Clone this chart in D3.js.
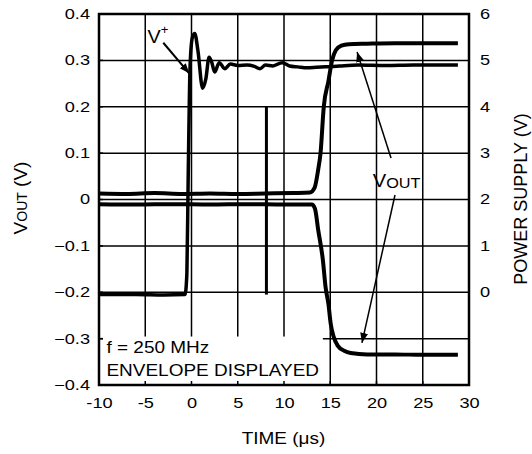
<!DOCTYPE html>
<html>
<head>
<meta charset="utf-8">
<script src="https://cdn.jsdelivr.net/npm/d3@7"></script>
<style>
  body { margin: 0; background: #fff; }
  text { font-family: Arial, "Liberation Sans", Helvetica, sans-serif; fill: #000; }
</style>
</head>
<body>
<svg id="chart" width="532" height="454"></svg>
<script>
// tick values
const timeTicks = [-10, -5, 0, 5, 10, 15, 20, 25, 30]
const voutTicks = [-0.4, -0.3, -0.2, -0.1, 0, 0.1, 0.2, 0.3, 0.4]
const supplyTicks = [0, 1, 2, 3, 4, 5, 6]

// power supply trace (right axis, V)
const supplyTime  = [-10, -6, -3, -0.7, -0.5, -0.35, -0.15, 0.1, 0.35, 0.7, 1.2, 1.55, 1.9, 2.2, 2.5, 3.0, 3.6, 4.2, 5, 6, 6.8, 7.4, 8, 8.8, 9.8, 10.6, 11.5, 12.5, 13.5, 14.5, 16, 18, 21, 24, 27, 28.8]
const supplyVolts = [-0.05, -0.05, -0.06, -0.05, 0.4, 2.6, 4.9, 5.5, 5.58, 5.2, 4.4, 4.6, 5.07, 4.95, 4.75, 4.95, 4.82, 4.92, 4.89, 4.9, 4.87, 4.82, 4.9, 4.88, 4.95, 4.88, 4.86, 4.84, 4.85, 4.86, 4.88, 4.9, 4.89, 4.9, 4.9, 4.9]

// output going high (left axis, V)
const outHighTime  = [-10, -7, -4, -1, 2, 5, 8, 11, 12.8, 13.3, 13.7, 13.95, 14.3, 14.8, 15.2, 15.6, 16.2, 17, 19, 22, 25, 28.8]
const outHighVolts = [0.013, 0.012, 0.014, 0.012, 0.013, 0.012, 0.013, 0.014, 0.015, 0.025, 0.065, 0.1, 0.2, 0.255, 0.3, 0.322, 0.332, 0.335, 0.336, 0.337, 0.337, 0.337]

// output going low (left axis, V)
const outLowTime  = [-10, -6, -2, 2, 6, 10, 13, 13.35, 13.7, 14.2, 14.5, 14.8, 15.05, 15.35, 15.8, 16.5, 17.2, 19, 22, 25, 28.8]
const outLowVolts = [-0.010, -0.011, -0.010, -0.011, -0.010, -0.011, -0.011, -0.02, -0.066, -0.13, -0.19, -0.225, -0.268, -0.295, -0.315, -0.326, -0.331, -0.334, -0.334, -0.335, -0.335]

// glitch spike
const glitchTime = 8.1
const glitchVolts = [-0.205, 0.2]

let svg = d3.select('#chart')

let plotLeft = 99, plotRight = 469, plotTop = 14, plotBottom = 385

let x = d3.scaleLinear().domain([-10, 30]).range([plotLeft, plotRight])
let yL = d3.scaleLinear().domain([-0.4, 0.4]).range([plotBottom, plotTop])
let yR = d3.scaleLinear().domain([-2, 6]).range([plotBottom, plotTop])

// grid
svg.append('g').selectAll('line')
    .data(timeTicks)
    .enter()
    .append('line')
    .attr('x1', (d) => x(d)).attr('x2', (d) => x(d))
    .attr('y1', plotTop).attr('y2', plotBottom)
    .attr('stroke', 'black').attr('stroke-width', 1.5)

svg.append('g').selectAll('line')
    .data(voutTicks)
    .enter()
    .append('line')
    .attr('x1', plotLeft).attr('x2', plotRight)
    .attr('y1', (d) => yL(d)).attr('y2', (d) => yL(d))
    .attr('stroke', 'black').attr('stroke-width', 1.5)

// white box behind the note, with small ticks left visible
svg.append('rect')
    .attr('x', x(-9.57)).attr('y', yL(-0.2955))
    .attr('width', x(14.2) - x(-9.57))
    .attr('height', plotBottom - yL(-0.2955))
    .attr('fill', 'white')

svg.append('g').selectAll('line')
    .data(timeTicks)
    .enter()
    .append('line')
    .attr('x1', (d) => x(d)).attr('x2', (d) => x(d))
    .attr('y1', plotBottom - 4).attr('y2', plotBottom)
    .attr('stroke', 'black').attr('stroke-width', 1.5)

svg.append('g').selectAll('line')
    .data(voutTicks)
    .enter()
    .append('line')
    .attr('x1', plotLeft).attr('x2', plotLeft + 4)
    .attr('y1', (d) => yL(d)).attr('y2', (d) => yL(d))
    .attr('stroke', 'black').attr('stroke-width', 1.5)

// traces
let lineL = d3.line().x((d) => x(d[0])).y((d) => yL(d[1])).curve(d3.curveMonotoneX)
let lineR = d3.line().x((d) => x(d[0])).y((d) => yR(d[1])).curve(d3.curveMonotoneX)

svg.append('path')
    .datum(d3.zip(supplyTime, supplyVolts))
    .attr('d', lineR)
    .attr('fill', 'none').attr('stroke', 'black').attr('stroke-width', 3.5)
    .attr('stroke-linejoin', 'round')

svg.append('path')
    .datum(d3.zip(outHighTime, outHighVolts))
    .attr('d', lineL)
    .attr('fill', 'none').attr('stroke', 'black').attr('stroke-width', 4)
    .attr('stroke-linejoin', 'round')

svg.append('path')
    .datum(d3.zip(outLowTime, outLowVolts))
    .attr('d', lineL)
    .attr('fill', 'none').attr('stroke', 'black').attr('stroke-width', 4)
    .attr('stroke-linejoin', 'round')

svg.append('line')
    .attr('x1', x(glitchTime)).attr('x2', x(glitchTime))
    .attr('y1', yL(glitchVolts[0])).attr('y2', yL(glitchVolts[1]))
    .attr('stroke', 'black').attr('stroke-width', 3)

// frame
svg.append('rect')
    .attr('x', plotLeft).attr('y', plotTop)
    .attr('width', plotRight - plotLeft).attr('height', plotBottom - plotTop)
    .attr('fill', 'none').attr('stroke', 'black').attr('stroke-width', 2.5)

// axes
let sx = 1.3
let xAxis = svg.append('g')
    .attr('transform', 'translate(0,' + plotBottom + ')')
    .call(d3.axisBottom(x).tickValues(timeTicks).tickSize(0).tickPadding(13).tickFormat((d) => d))
let yAxisL = svg.append('g')
    .attr('transform', 'translate(' + plotLeft + ',0)')
    .call(d3.axisLeft(yL).tickValues(voutTicks).tickSize(0).tickPadding(9)
        .tickFormat((d) => Math.abs(d) < 1e-9 ? '0' : d3.format('.1f')(d)))
let yAxisR = svg.append('g')
    .attr('transform', 'translate(' + plotRight + ',0)')
    .call(d3.axisRight(yR).tickValues(supplyTicks).tickSize(0).tickPadding(11).tickFormat((d) => d))

for (let ax of [xAxis, yAxisL, yAxisR]) {
    ax.select('.domain').remove()
    ax.selectAll('text')
        .attr('font-size', '14px')
        .attr('font-family', 'Arial, "Liberation Sans", sans-serif')
        .attr('fill', 'black')
        .attr('x', function() { return (+d3.select(this).attr('x') || 0) / sx })
        .attr('transform', 'scale(' + sx + ',1)')
}

// axis titles
svg.append('text')
    .attr('transform', 'translate(283.5,444) scale(1.15,1)')
    .attr('text-anchor', 'middle')
    .attr('font-size', '16.5px')
    .text('TIME (μs)')

let leftTitle = svg.append('text')
    .attr('transform', 'translate(27,198) rotate(-90)')
    .attr('text-anchor', 'middle')
    .attr('font-size', '19px')
leftTitle.append('tspan').text('V')
leftTitle.append('tspan').attr('font-size', '14px').text('OUT')
leftTitle.append('tspan').text(' (V)')

svg.append('text')
    .attr('transform', 'translate(527,199) rotate(-90)')
    .attr('text-anchor', 'middle')
    .attr('font-size', '18px')
    .text('POWER SUPPLY (V)')

// note box text
svg.append('text')
    .attr('transform', 'translate(' + (x(-9.57) + 3.5) + ',353) scale(1.15,1)')
    .attr('font-size', '16.5px')
    .text('f = 250 MHz')
svg.append('text')
    .attr('transform', 'translate(' + (x(-9.57) + 3.5) + ',375.5) scale(1.15,1)')
    .attr('font-size', '16.5px')
    .text('ENVELOPE DISPLAYED')

// arrows
svg.append('defs').append('marker')
    .attr('id', 'head')
    .attr('markerUnits', 'userSpaceOnUse')
    .attr('markerWidth', 12).attr('markerHeight', 10)
    .attr('refX', 10).attr('refY', 4)
    .attr('orient', 'auto')
    .append('path')
    .attr('d', 'M0,0 L10,4 L0,8 Z')
    .attr('fill', 'black')

let arrows = [
    {from: [-3.05, 0.338], to: [-0.25, 0.272], w: 2},
    {from: [21.57, 0.0895], to: [17.9, 0.318], w: 1.5},
    {from: [22.0, 0.0097], to: [18.43, -0.309], w: 1.5}
]
svg.append('g').selectAll('line')
    .data(arrows)
    .enter()
    .append('line')
    .attr('x1', (a) => x(a.from[0])).attr('y1', (a) => yL(a.from[1]))
    .attr('x2', (a) => x(a.to[0])).attr('y2', (a) => yL(a.to[1]))
    .attr('stroke', 'black').attr('stroke-width', (a) => a.w)
    .attr('marker-end', 'url(#head)')

// V+ label
let vplus = svg.append('text')
    .attr('transform', 'translate(' + x(-4.75) + ',' + yL(0.3375) + ') scale(1.1,1)')
    .attr('font-size', '18px')
vplus.append('tspan').text('V')
vplus.append('tspan').attr('font-size', '12px').attr('dy', -9).text('+')

// VOUT label
let vout = svg.append('text')
    .attr('transform', 'translate(' + x(19.6) + ',' + yL(0.027) + ') scale(1.12,1)')
    .attr('font-size', '18px')
vout.append('tspan').text('V')
vout.append('tspan').attr('font-size', '14.5px').attr('dy', 1.5).text('OUT')
</script>
</body>
</html>
